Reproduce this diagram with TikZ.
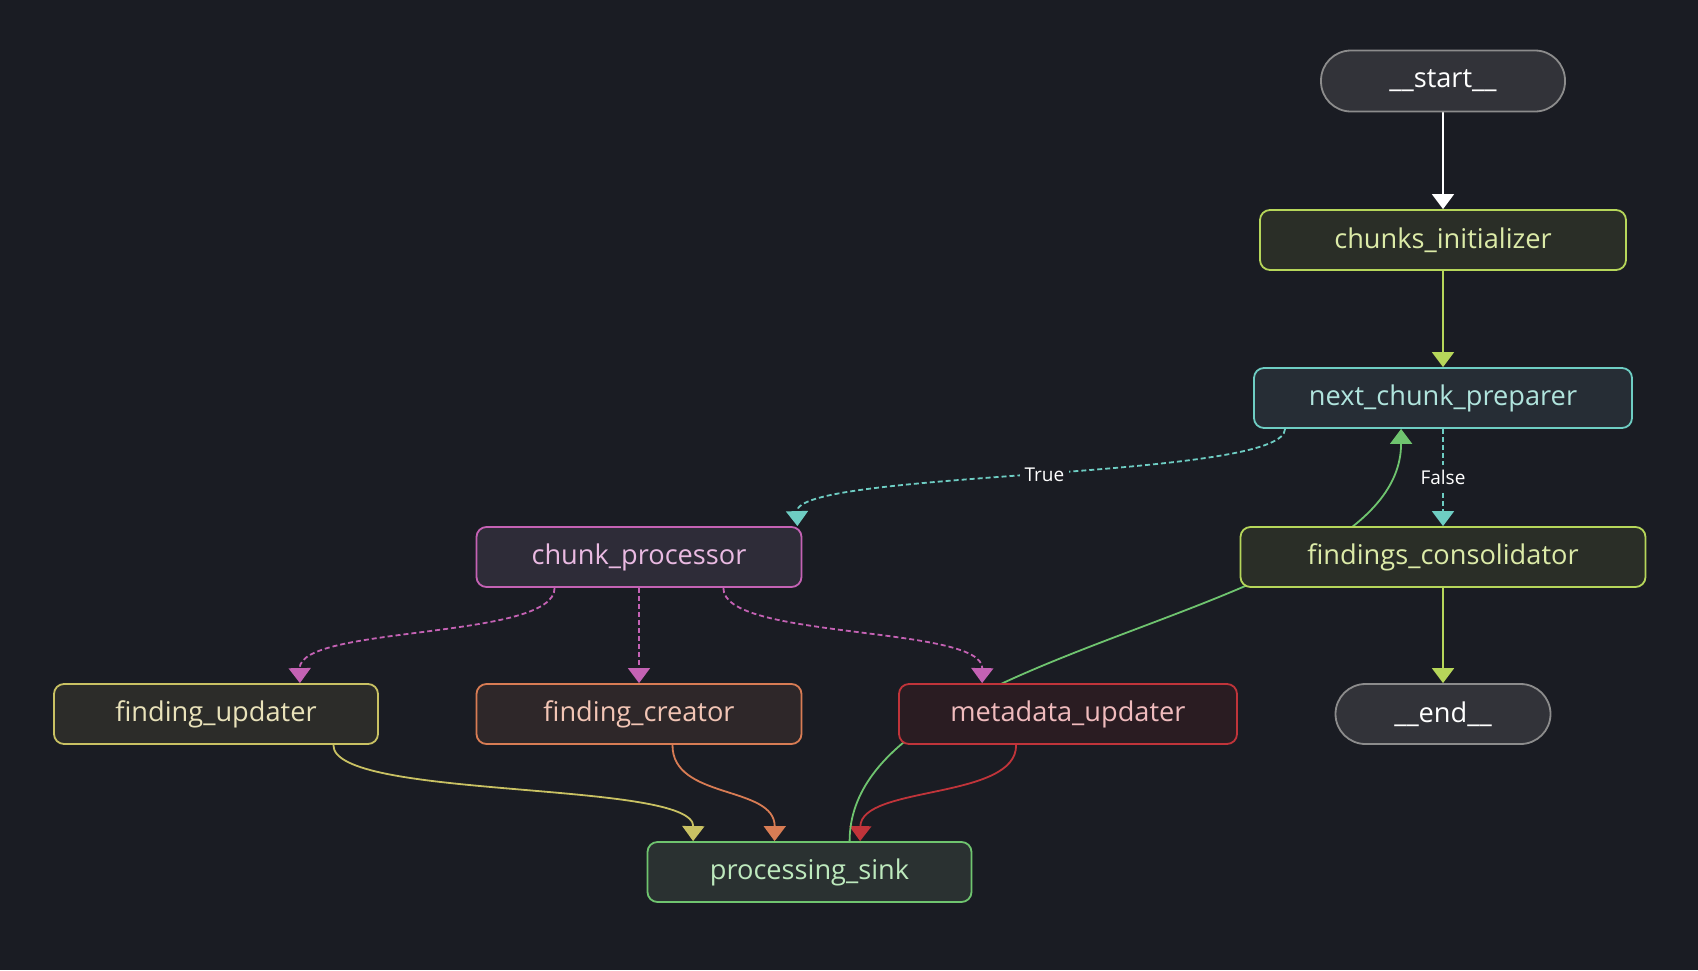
\documentclass[tikz,border=0pt]{standalone}
\usepackage{fontspec}
\setmainfont{Open Sans}
\usetikzlibrary{arrows.meta,calc,backgrounds}
\definecolor{bgcol}{HTML}{1A1C23}
\definecolor{pillfill}{HTML}{323339}
\definecolor{pillline}{HTML}{8C8C8C}
\definecolor{limeline}{HTML}{B6D65A}
\definecolor{limetext}{HTML}{DCEBA8}
\definecolor{limefill}{HTML}{2A2E27}
\definecolor{tealline}{HTML}{6ECDC3}
\definecolor{tealtext}{HTML}{B0E4DD}
\definecolor{tealfill}{HTML}{262D35}
\definecolor{magline}{HTML}{C462B4}
\definecolor{magtext}{HTML}{EABAE2}
\definecolor{magfill}{HTML}{2E2C38}
\definecolor{oliveline}{HTML}{C9C163}
\definecolor{olivetext}{HTML}{E9E2BA}
\definecolor{olivefill}{HTML}{2C2C29}
\definecolor{orangeline}{HTML}{D87C54}
\definecolor{orangetext}{HTML}{F2C5B5}
\definecolor{orangefill}{HTML}{2E2729}
\definecolor{redline}{HTML}{C0343A}
\definecolor{redtext}{HTML}{F0BBBD}
\definecolor{redfill}{HTML}{2A1C22}
\definecolor{greenline}{HTML}{6FC46F}
\definecolor{greentext}{HTML}{BDE9BD}
\definecolor{greenfill}{HTML}{2A3131}

\begin{document}
\begin{tikzpicture}
[x=0.5pt,y=-0.5pt,every node/.style={rectangle,rounded corners=5pt,draw,line width=0.9pt,minimum height=30pt,inner sep=0pt,font=\fontsize{13.6}{16}\selectfont},
pill/.style={rounded corners=15pt,draw=pillline,fill=pillfill,text=white},
lbl/.style={draw=none,fill=bgcol,rounded corners=0pt,minimum height=0pt,inner sep=2.5pt,text=white,font=\fontsize{9.5}{11}\selectfont},
tip/.style={-{Triangle[width=11pt,length=7.5pt]},line width=0.9pt},
cond/.style={dash pattern=on 2.5pt off 1.5pt}]
\node[pill,minimum width=122pt,minimum height=30.5pt] (start) at (1443,81) {\_\_start\_\_};
\node[draw=limeline,fill=limefill,text=limetext,minimum width=183pt] (init) at (1443,240) {chunks\_initializer};
\node[draw=tealline,fill=tealfill,text=tealtext,minimum width=189pt] (prep) at (1443,398) {next\_chunk\_preparer};
\node[draw=magline,fill=magfill,text=magtext,minimum width=162.5pt] (proc) at (639,557) {chunk\_processor};
\node[draw=limeline,fill=limefill,text=limetext,minimum width=202.5pt] (cons) at (1443,557) {findings\_consolidator};
\node[draw=oliveline,fill=olivefill,text=olivetext,minimum width=162pt] (upd) at (216,714) {finding\_updater};
\node[draw=orangeline,fill=orangefill,text=orangetext,minimum width=162.5pt] (creat) at (639,714) {finding\_creator};
\node[draw=redline,fill=redfill,text=redtext,minimum width=169pt] (meta) at (1068,714) {metadata\_updater};
\node[pill,minimum width=107.5pt] (end) at (1443,714) {\_\_end\_\_};
\node[draw=greenline,fill=greenfill,text=greentext,minimum width=162pt] (sink) at (809.5,872) {processing\_sink};
\begin{scope}[on background layer]
\fill[bgcol] (0,0) rectangle (1698,970);
\foreach \from/\to/\col in {start/init/white,init/prep/limeline,cons/end/limeline}
\draw[tip,\col] (\from) -- (\to);
\draw[tip,cond,magline] (proc) -- (creat);
\draw[tip,cond,tealline] (prep) -- node[lbl] {False} (cons);
\draw[tip,cond,tealline] ($(prep.south west)+(32,0)$) .. controls (1285,480) and (796,470) .. node[lbl,pos=0.495] {True} ($(proc.north east)+(-5,0)$);
\draw[tip,cond,magline] ($(proc.south west)+(79,0)$) .. controls (555,640) and (299,625) .. ($(upd.north east)+(-79,0)$);
\draw[tip,cond,magline] ($(proc.south east)+(-79,0)$) .. controls (722,640) and (983,625) .. ($(meta.north west)+(84,0)$);
\draw[tip,oliveline] ($(upd.south east)+(-45.5,0)$) .. controls (332,800) and (694,780) .. ($(sink.north west)+(46.5,0)$);
\draw[tip,orangeline] ($(creat.south)+(33.5,0)$) .. controls (672,800) and (775,785) .. ($(sink.north west)+(128,0)$);
\draw[tip,redline] ($(meta.south west)+(118,0)$) .. controls (1017,800) and (861,785) .. ($(sink.north west)+(213.5,0)$);
\draw[tip,greenline] ($(sink.north west)+(203,0)$) .. controls (850,640) and (1401,620) .. ($(prep.south west)+(148,0)$);
\end{scope}
\end{tikzpicture}
\end{document}
